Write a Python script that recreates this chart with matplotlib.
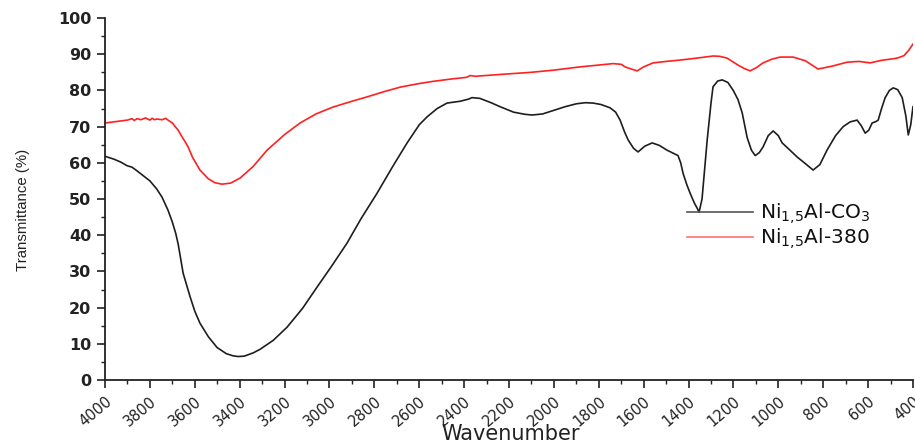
import matplotlib
matplotlib.use("Agg")
import matplotlib.pyplot as plt
from matplotlib.ticker import MultipleLocator

plt.rcParams['font.family'] = ['DejaVu Sans']
plt.rcParams['mathtext.fontset'] = 'dejavusans'

# Ni1,5Al-CO3 (black)
wn_co3 = [4000, 3960, 3930, 3902, 3880, 3860, 3831, 3800, 3770, 3746, 3720, 3701, 3685,
          3674, 3652, 3621, 3600, 3577, 3540, 3501, 3460, 3430, 3407, 3380, 3340, 3309,
          3250, 3189, 3120, 3055, 2990, 2922, 2860, 2788, 2720, 2654, 2600, 2565, 2520,
          2476, 2418, 2380, 2365, 2330, 2280, 2240, 2180, 2130, 2097, 2050, 2000, 1950,
          1900, 1860, 1825, 1790, 1750, 1725, 1705, 1685, 1669, 1645, 1625, 1595, 1562,
          1530, 1496, 1470, 1447, 1435, 1424, 1408, 1393, 1375, 1362, 1353, 1340, 1317,
          1300, 1291, 1270, 1250, 1225, 1201, 1180, 1161, 1139, 1120, 1103, 1085, 1068,
          1045, 1023, 1000, 983, 950, 916, 880, 845, 815, 783, 745, 711, 680, 649, 630,
          613, 597, 582, 565, 555, 540, 524, 505, 488, 468, 448, 432, 421, 410, 400]
t_co3 = [61.8, 61.0, 60.2, 59.2, 58.8, 57.9, 56.5, 55.0, 52.8, 50.5, 47.0, 43.8, 40.5,
         37.5, 29.5, 23.0, 19.0, 15.7, 12.0, 9.0, 7.3, 6.7, 6.5, 6.6, 7.5, 8.5,
         11.0, 14.6, 19.8, 25.7, 31.5, 37.8, 44.5, 51.6, 58.8, 65.5, 70.5, 72.7, 75.0,
         76.5, 77.0, 77.6, 78.0, 77.8, 76.6, 75.5, 74.0, 73.4, 73.2, 73.5, 74.5, 75.5,
         76.3, 76.6, 76.5, 76.1, 75.2, 74.0, 71.8, 68.5, 66.3, 64.0, 63.0, 64.6, 65.5,
         64.8, 63.5, 62.7, 62.0, 60.0, 57.0, 54.0, 51.6, 49.0, 47.5, 46.4, 50.0, 66.3,
         76.5, 81.0, 82.6, 82.9, 82.2, 80.0, 77.5, 73.8, 67.0, 63.5, 62.0, 62.8, 64.4,
         67.5, 68.8, 67.5, 65.5, 63.6, 61.6, 59.8, 58.0, 59.5, 63.5, 67.5, 70.0, 71.3,
         71.8, 70.2, 68.2, 69.0, 71.0, 71.4, 71.8, 75.0, 78.0, 80.0, 80.7, 80.2, 78.0,
         73.0, 67.7, 70.5, 75.5]

# Ni1,5Al-380 (red)
wn_380 = [4000, 3950, 3900, 3880, 3870, 3857, 3840, 3820, 3800, 3790, 3780, 3770, 3746,
          3730, 3715, 3700, 3690, 3674, 3660, 3645, 3630, 3610, 3577, 3540, 3510, 3479,
          3440, 3398, 3340, 3278, 3200, 3131, 3060, 2984, 2900, 2833, 2760, 2685, 2600,
          2538, 2450, 2390, 2373, 2350, 2240, 2100, 2000, 1883, 1800, 1736, 1700, 1683,
          1655, 1629, 1600, 1558, 1500, 1450, 1393, 1340, 1291, 1260, 1228, 1180, 1150,
          1126, 1100, 1068, 1030, 992, 934, 880, 823, 760, 693, 640, 591, 540, 471,
          440, 420, 400]
t_380 = [71.0, 71.4, 71.8, 72.2, 71.7, 72.2, 71.9, 72.4, 71.8, 72.3, 71.9, 72.1, 71.9,
         72.3, 71.6, 71.0, 70.2, 69.0, 67.5, 66.0, 64.4, 61.5, 58.0, 55.6, 54.5, 54.1,
         54.4, 55.8, 59.0, 63.5, 67.8, 71.0, 73.5, 75.4, 77.0, 78.2, 79.6, 80.9, 81.9,
         82.5, 83.2, 83.6, 84.1, 83.9, 84.4, 85.0, 85.6, 86.5, 87.0, 87.4, 87.2, 86.5,
         85.9, 85.4, 86.5, 87.6, 88.0, 88.3, 88.7, 89.1, 89.5, 89.4, 88.9, 87.0, 86.0,
         85.4, 86.2, 87.6, 88.6, 89.2, 89.2, 88.2, 85.9, 86.7, 87.8, 88.0, 87.6, 88.3,
         88.9, 89.6, 91.0, 92.8]

labels = [r'Ni$_{1{,}5}$Al-CO$_3$', r'Ni$_{1{,}5}$Al-380']

fig = plt.figure(figsize=(9.15, 4.44), dpi=100)
ax = fig.add_axes([0.1148, 0.144, 0.883, 0.8155])

ax.plot(wn_co3, t_co3, color='#1e1e1e', lw=1.2, label=labels[0])
ax.plot(wn_380, t_380, color='#ff2020', lw=1.2, label=labels[1])

ax.set_xlim(4000, 400)
ax.set_ylim(0, 100)
ax.xaxis.set_major_locator(MultipleLocator(200))
ax.xaxis.set_minor_locator(MultipleLocator(100))
ax.yaxis.set_major_locator(MultipleLocator(10))
ax.yaxis.set_minor_locator(MultipleLocator(5))

for s in ['top', 'right']:
    ax.spines[s].set_visible(False)
for s in ['left', 'bottom']:
    ax.spines[s].set_linewidth(1.3)
    ax.spines[s].set_color('#222222')

ax.tick_params(axis='both', which='major', direction='out', length=6, width=1.2,
               colors='#222222')
ax.tick_params(axis='both', which='minor', direction='out', length=3, width=1.0,
               colors='#222222')
ax.tick_params(axis='y', labelsize=11.5, pad=4)
ax.tick_params(axis='x', labelsize=10.5, pad=4)

for lbl in ax.get_yticklabels():
    lbl.set_fontweight('bold')
    lbl.set_color('#222222')
for lbl in ax.get_xticklabels():
    lbl.set_rotation(40)
    lbl.set_ha('right')
    lbl.set_va('top')
    lbl.set_rotation_mode('anchor')
    lbl.set_color('#222222')

ax.set_xlabel('Wavenumber', fontsize=15, color='#222222', va='baseline')
ax.xaxis.set_label_coords(0.502, -0.165)
ax.set_ylabel('Transmittance (%)', fontsize=10.8, family='Liberation Sans',
              color='#222222', va='center', ha='center')
ax.yaxis.set_label_coords(-0.102, 0.47)

leg = ax.legend(loc='center left', bbox_to_anchor=(0.71, 0.425), frameon=False,
                fontsize=14.5, handlelength=3.3, handletextpad=0.35,
                labelspacing=0.0, borderaxespad=0)
leg.get_lines()[0].set_color('#555555')
leg.get_lines()[1].set_color('#ff7070')
for t in leg.get_texts():
    t.set_color('#111111')

fig.savefig('out.png', dpi=100)
